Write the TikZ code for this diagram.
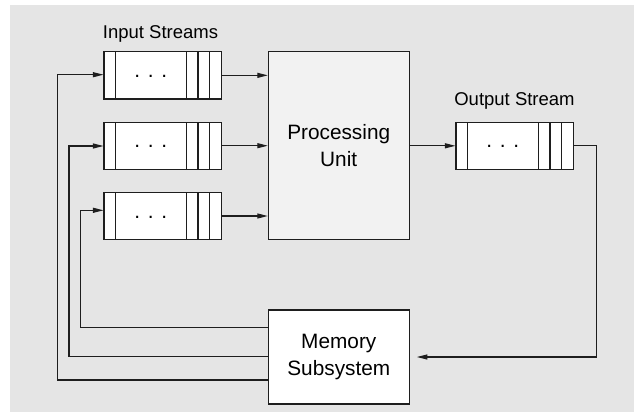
\documentclass[tikz,border=0pt]{standalone}
\usepackage{fontspec}
\setmainfont{Liberation Sans}
\usetikzlibrary{arrows.meta,calc}

\definecolor{panel}{HTML}{E5E5E5}
\definecolor{unitfill}{HTML}{F2F2F2}
\definecolor{ink}{HTML}{1E1E1E}

\tikzset{
  boxfont/.style={font=\fontsize{20.8}{27}\selectfont},
  capfont/.style={font=\fontsize{18.5}{22}\selectfont},
  wire/.style={draw=ink, line width=1.1pt},
  arr/.style={wire, -{Triangle[length=10.5pt,width=5pt]}},
  queue/.style={
    draw=ink, line width=1.1pt, fill=white, rectangle, inner sep=0pt,
    minimum width=117.7pt, minimum height=47.3pt,
    path picture={
      \foreach \d in {11.7,82.1,94,105.8}
        \draw[ink, line width=1.1pt]
          ($(path picture bounding box.north west)+(\d pt,0)$) --
          ($(path picture bounding box.south west)+(\d pt,0)$);
    },
    label={[boxfont, xshift=-12pt, yshift=-1pt]center:. . .}
  },
  block/.style={draw=ink, line width=1.1pt, rectangle, inner sep=0pt,
    align=center, boxfont}
}

\begin{document}
\begin{tikzpicture}[x=1pt, y=-1pt]
  \useasboundingbox (0,0) rectangle (634,412);
  \fill[panel] (10,5) rectangle (634,412);

  % input queues
  \node[queue] (q1) at (162.85,75.35) {};
  \node[queue] (q2) at (162.85,145.7) {};
  \node[queue] (q3) at (162.85,216.0) {};
  \node[capfont, anchor=base] (inlab) at (160.5,38.8) {Input Streams};

  % processing unit
  \node[block, fill=unitfill, minimum width=140.7pt, minimum height=187.6pt]
    (pu) at (338.7,145.5) {Processing\\Unit};

  % output queue
  \node[queue] (qo) at (514.85,145.8) {};
  \node[capfont, anchor=base] (outlab) at (514.5,105.7) {Output Stream};

  % memory subsystem
  \node[block, fill=white, minimum width=141pt, minimum height=94pt]
    (mem) at (338.8,357) {Memory\\Subsystem};

  % queues feed the processing unit
  \draw[arr] (q1.east) -- (pu.west |- q1.east);
  \draw[arr] (q2.east) -- (pu.west |- q2.east);
  \draw[arr] (q3.east) -- (pu.west |- q3.east);
  \draw[arr] (pu.east |- qo.west) -- (qo.west);

  % output stream goes back to memory
  \coordinate (turn) at (596.7,145.8);
  \draw[arr, shorten >=7pt] (qo.east) -- (turn) |- (mem.east);

  % memory refills the input queues
  \coordinate (r1) at (57.3,74.7);
  \coordinate (r2) at (69.0,146.0);
  \coordinate (r3) at (80.7,210.3);
  \draw[arr] (mem.west |- 0,380.0) -| (r1) -- (q1.west |- r1);
  \draw[arr] (mem.west |- 0,356.7) -| (r2) -- (q2.west |- r2);
  \draw[arr] (mem.west |- 0,327.3) -| (r3) -- (q3.west |- r3);
\end{tikzpicture}
\end{document}
